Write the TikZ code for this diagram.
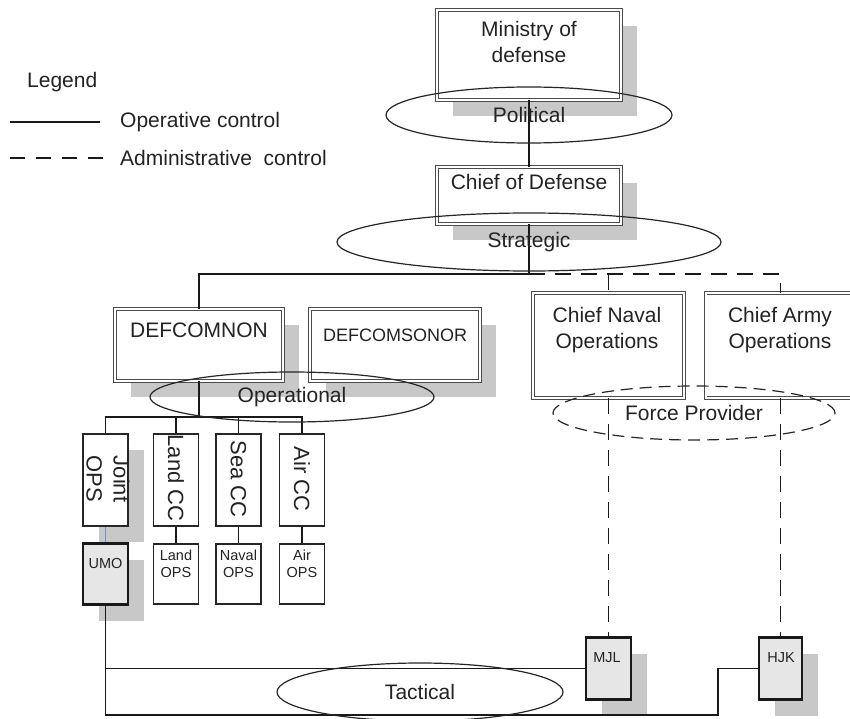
\documentclass[tikz,border=0pt]{standalone}
\usepackage{fontspec}
\setmainfont{Liberation Sans}
\usetikzlibrary{shapes.geometric,shadows}
\definecolor{shade}{RGB}{200,200,200}
\definecolor{lightfill}{RGB}{230,230,230}
\definecolor{txt}{RGB}{35,35,35}
\definecolor{linkblue}{RGB}{110,150,210}
\tikzset{
  big/.style={font=\fontsize{21}{26}\selectfont, text=txt, align=center, inner sep=0},
  mid/.style={font=\fontsize{18}{22}\selectfont, text=txt, align=center, inner sep=0},
  rot/.style={font=\fontsize{22}{27}\selectfont, text=txt, align=center, inner sep=0, rotate=-90},
  small/.style={font=\fontsize{14.5}{17.5}\selectfont, text=txt, align=center, inner sep=0},
  shadowed/.style={general shadow={fill=shade, draw=none, shadow xshift=16pt, shadow yshift=-16pt}},
  frame/.style={rectangle, draw=black!70, double=white, double distance=2pt, line width=0.9pt, fill=white, inner sep=0},
  ccbox/.style={rectangle, draw=black!85, line width=1.4pt, fill=white, minimum width=45, minimum height=92, inner sep=0},
  opsbox/.style={ccbox, minimum height=60},
  unitbox/.style={rectangle, draw=black!90, line width=2.2pt, fill=lightfill, minimum width=45, minimum height=61, inner sep=0},
  zone/.style={ellipse, draw=black!85, line width=1.2pt, inner sep=0, big},
  opline/.style={draw=black!90, line width=1.8pt},
  admin/.style={draw=black!90, line width=1.8pt, dash pattern=on 16pt off 10pt},
  adminleg/.style={draw=black!90, line width=1.8pt, dash pattern=on 15pt off 11pt},
}
\begin{document}
\begin{tikzpicture}[x=1pt,y=-1pt]
\useasboundingbox (0,0) rectangle (850,719);
\fill[white] (0,0) rectangle (850,719);

% boxes
\node[frame, shadowed, minimum width=184, minimum height=90] (min) at (529,55) {};
\node[frame, shadowed, minimum width=184, minimum height=57] (cod) at (529,195.5) {};
\node[frame, shadowed, minimum width=168, minimum height=72] (dnon) at (199,345) {};
\node[frame, shadowed, minimum width=170, minimum height=72] (dsonor) at (395,345) {};
\node[frame, minimum width=151, minimum height=105] (cno) at (608.5,345.5) {};
\node[frame, minimum width=150, minimum height=105] (cao) at (780.5,345.5) {};

\node[ccbox, shadowed] (jops) at (105.5,480) {};
\node[ccbox] (landcc) at (176,480) {};
\node[ccbox] (seacc) at (238.5,480) {};
\node[ccbox] (aircc) at (302,480) {};

\node[unitbox, shadowed] (umo) at (105.5,574) {};
\node[opsbox] (landops) at (176,574) {};
\node[opsbox] (navalops) at (238.5,574) {};
\node[opsbox] (airops) at (302,574) {};

\node[unitbox, shadowed, minimum height=62] (mjl) at (608.5,668.5) {};
\node[unitbox, shadowed, minimum width=43, minimum height=62] (hjk) at (780.5,668.5) {};

% connectors
\draw[opline] (min.south) -- (cod.north);
\coordinate (sj) at (529,274);
\draw[opline] (cod.south) -- (sj) -- (sj -| dnon.north) -- (dnon.north);
\draw[admin] (sj) -- (sj -| cao.north) -- (cao.north);
\draw[admin] (sj -| cno.north) -- (cno.north);

\coordinate (oj) at (199,417);
\draw[opline] (dnon.south) -- (oj);
\draw[opline] (jops.north) |- (oj) -| (aircc.north);
\draw[opline] (landcc.north) -- (landcc.north |- oj);
\draw[opline] (seacc.north) -- (seacc.north |- oj);

\draw[linkblue, line width=1.4pt] (jops.south) -- (umo.north);
\draw[opline] (landcc.south) -- (landops.north);
\draw[opline] (seacc.south) -- (navalops.north);
\draw[opline] (aircc.south) -- (airops.north);

\coordinate (tl) at (105.5,715);
\coordinate (tr) at (718,715);
\draw[opline] (umo.south) -- (tl) -- (tr) |- (hjk.west);
\draw[opline] (umo.south |- mjl.west) -- (mjl.west);
\draw[admin] (cno.south) -- (mjl.north);
\draw[admin] (cao.south) -- (hjk.north);

% texts in boxes
\node[big] (mint) at (529,41.5) {Ministry of\\defense};
\node[big] (codt) at (529,182) {Chief of Defense};
\node[big] (dnont) at (199,330) {DEFCOMNON};
\node[mid] (dsonort) at (395,335) {DEFCOMSONOR};
\node[big] (cnot) at (607,330.5) {Chief Naval\\Operations};
\node[big] (caot) at (780,330.5) {Chief Army\\Operations};
\node[rot] (jopst) at (108,479) {Joint\\OPS};
\node[rot] (landcct) at (176,478) {Land CC};
\node[rot] (seacct) at (238.5,479) {Sea CC};
\node[rot] (aircct) at (302,479) {Air CC};
\node[small] (umot) at (105.5,564) {UMO};
\node[small] (landopst) at (176,564) {Land\\OPS};
\node[small] (navalopst) at (238.5,564) {Naval\\OPS};
\node[small] (airopst) at (302,564) {Air\\OPS};
\node[small] (mjlt) at (607,658) {MJL};
\node[small] (hjkt) at (781,658) {HJK};

% level ellipses
\node[zone, minimum width=286, minimum height=56] (pol) at (529,115) {Political};
\node[zone, minimum width=384, minimum height=58] (strat) at (529,242) {Strategic};
\node[zone, minimum width=284, minimum height=50] (oper) at (292,397) {Operational};
\node[zone, dash pattern=on 12pt off 7pt, minimum width=282, minimum height=54] (force) at (694,413) {Force Provider};
\node[zone, minimum width=286, minimum height=58] (tact) at (420,692) {Tactical};

% legend
\node[big, anchor=west] (leg) at (27,82) {Legend};
\coordinate (l1a) at (10,122);
\coordinate (l1b) at (100,122);
\draw[opline] (l1a) -- (l1b);
\node[big, anchor=west] (l1t) at (120,122) {Operative control};
\coordinate (l2a) at (10,158);
\coordinate (l2b) at (103,158);
\draw[adminleg] (l2a) -- (l2b);
\node[big, anchor=west] (l2t) at (120,158) {Administrative\ \ control};
\end{tikzpicture}
\end{document}
